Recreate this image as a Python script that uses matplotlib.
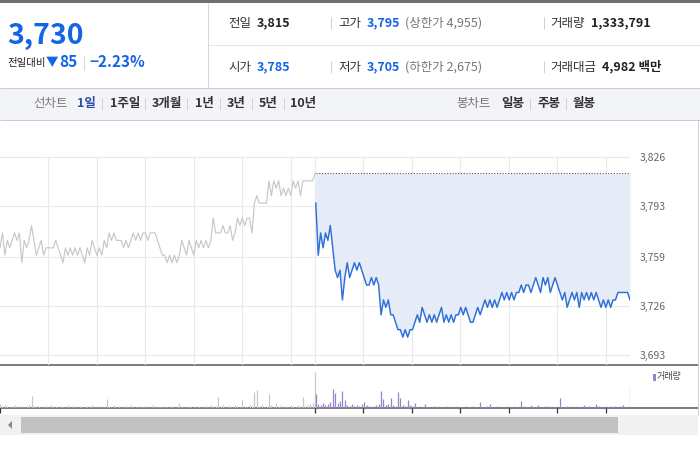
import numpy as np
import matplotlib
matplotlib.use('Agg')
import matplotlib.pyplot as plt
from matplotlib.patches import Rectangle, Polygon

plt.rcParams['font.family'] = ['Noto Sans CJK KR', 'DejaVu Sans']

# previous day, one point every 3 minutes (last one = close 3,815)
prev_price = [
    3765, 3775, 3760, 3770, 3765, 3770, 3775, 3770, 3775, 3755,
    3770, 3765, 3770, 3780, 3770, 3760, 3765, 3770, 3760, 3765,
    3765, 3765, 3765, 3770, 3765, 3760, 3755, 3765, 3760, 3765,
    3760, 3765, 3760, 3765, 3760, 3755, 3765, 3760, 3770, 3765,
    3760, 3765, 3760, 3770, 3765, 3775, 3770, 3775, 3770, 3770,
    3770, 3765, 3770, 3765, 3770, 3775, 3770, 3775, 3770, 3775,
    3775, 3770, 3775, 3775, 3775, 3770, 3765, 3760, 3760, 3755,
    3760, 3755, 3760, 3755, 3760, 3770, 3765, 3760, 3770, 3765,
    3760, 3770, 3765, 3770, 3765, 3770, 3765, 3770, 3785, 3775,
    3775, 3775, 3780, 3775, 3775, 3780, 3770, 3775, 3785, 3780,
    3785, 3780, 3785, 3785, 3775, 3795, 3800, 3795, 3795, 3795,
    3795, 3810, 3800, 3810, 3805, 3810, 3800, 3805, 3800, 3805,
    3800, 3810, 3805, 3810, 3800, 3810, 3810, 3810, 3810, 3810,
    3815,
]
prev_vol = [
    4, 2, 3, 2, 1, 2, 3, 1, 2, 2,
    1, 2, 3, 12, 2, 1, 2, 1, 1, 2,
    1, 3, 1, 2, 1, 2, 1, 1, 3, 1,
    2, 1, 1, 2, 1, 1, 2, 1, 3, 1,
    1, 2, 1, 1, 9, 2, 1, 3, 1, 2,
    1, 1, 2, 1, 3, 1, 1, 2, 1, 1,
    2, 1, 1, 3, 1, 2, 1, 1, 2, 1,
    1, 2, 1, 1, 5, 2, 1, 1, 2, 1,
    1, 1, 2, 1, 1, 2, 1, 3, 1, 2,
    11, 2, 3, 1, 2, 2, 1, 3, 2, 1,
    8, 2, 1, 3, 2, 16, 18, 2, 3, 1,
    2, 14, 3, 1, 5, 2, 3, 1, 2, 1,
    3, 2, 1, 3, 2, 11, 2, 3, 4, 5,
    36,
]

# today
today_price = [
    3795, 3760, 3775, 3765, 3775, 3770, 3780, 3765, 3750, 3745,
    3750, 3730, 3745, 3755, 3745, 3750, 3755, 3750, 3755, 3750,
    3745, 3740, 3740, 3745, 3740, 3745, 3740, 3720, 3730, 3725,
    3730, 3720, 3720, 3715, 3710, 3710, 3705, 3710, 3705, 3710,
    3710, 3715, 3720, 3715, 3725, 3720, 3715, 3720, 3715, 3720,
    3715, 3720, 3725, 3715, 3720, 3715, 3720, 3715, 3720, 3720,
    3725, 3720, 3725, 3720, 3715, 3715, 3720, 3725, 3720, 3725,
    3730, 3725, 3730, 3725, 3730, 3725, 3730, 3735, 3730, 3735,
    3730, 3735, 3730, 3735, 3735, 3740, 3735, 3740, 3740, 3735,
    3740, 3745, 3740, 3735, 3745, 3740, 3745, 3735, 3740, 3745,
    3740, 3735, 3730, 3735, 3725, 3730, 3735, 3730, 3735, 3725,
    3735, 3730, 3735, 3730, 3735, 3730, 3735, 3730, 3725, 3730,
    3725, 3730, 3725, 3730, 3730, 3735, 3735, 3735, 3735, 3735,
    3730,
]
today_vol = [
    14, 4, 3, 5, 3, 4, 6, 19, 15, 5,
    7, 17, 8, 3, 2, 4, 2, 3, 2, 4,
    6, 3, 2, 1, 2, 3, 4, 17, 9, 3,
    4, 10, 3, 2, 16, 10, 3, 2, 8, 3,
    2, 5, 1, 2, 1, 4, 1, 1, 1, 2,
    1, 2, 1, 1, 2, 1, 1, 1, 2, 1,
    1, 1, 2, 1, 1, 2, 1, 1, 6, 1,
    1, 2, 4, 1, 1, 2, 1, 1, 1, 2,
    1, 1, 2, 1, 1, 7, 2, 1, 1, 3,
    1, 1, 3, 1, 1, 2, 2, 1, 1, 1,
    2, 10, 1, 1, 2, 1, 2, 1, 2, 1,
    1, 3, 1, 2, 1, 1, 4, 2, 1, 1,
    2, 1, 2, 1, 2, 1, 2, 3, 1, 1,
    21,
]
prev_close = 3815
ytick_vals = [3693, 3726, 3759, 3793, 3826]
grid_minutes = [60, 120, 180, 240, 300, 360, 390, 450, 510, 570, 630, 690, 750]
tick_minutes = [0, 390, 450, 510, 570, 630, 690, 750]

prev_t = np.linspace(0, 390, len(prev_price))
today_t = np.linspace(391, 780, len(today_price))

BLUE = '#1464e6'
fig = plt.figure(figsize=(7, 4.5), dpi=100)

# background / header drawn in pixel coordinates
bg = fig.add_axes([0, 0, 1, 1], zorder=0)
bg.set_xlim(0, 700)
bg.set_ylim(450, 0)
bg.axis('off')

def rect(x0, y0, x1, y1, color):
    bg.add_patch(Rectangle((x0, y0), x1 - x0, y1 - y0, color=color, lw=0))

def line(xs, ys, color, lw=0.72):
    bg.plot(xs, ys, color=color, lw=lw, solid_capstyle='butt')

rect(0, 0, 700, 3, '#6c7076')
line([208, 208], [3, 88], '#d5d7db')
line([208, 700], [45, 45], '#e3e4e7')

bg.text(7, 36, '3,730', fontsize=20.5, fontweight='bold', color=BLUE, va='center')
bg.text(7, 63, '전일대비', fontsize=7.5, color='#222', va='center')
bg.text(46, 63, '▼', fontsize=9, color=BLUE, va='center')
bg.text(59, 62, '85', fontsize=11, fontweight='bold', color=BLUE, va='center')
line([84, 84], [56, 70], '#d5d5d5')
bg.text(89, 62, '−2.23%', fontsize=11, fontweight='bold', color=BLUE, va='center')

rows = [
    (23, [('전일', 228, '#333', 'normal'), ('3,815', 257, '#222', 'bold'),
          ('고가', 338, '#333', 'normal'), ('3,795', 367, BLUE, 'bold'),
          ('(상한가 4,955)', 405, '#777', 'normal'),
          ('거래량', 550, '#333', 'normal'), ('1,333,791', 591, '#222', 'bold')]),
    (67, [('시가', 228, '#333', 'normal'), ('3,785', 257, BLUE, 'bold'),
          ('저가', 338, '#333', 'normal'), ('3,705', 367, BLUE, 'bold'),
          ('(하한가 2,675)', 405, '#777', 'normal'),
          ('거래대금', 550, '#333', 'normal'), ('4,982 백만', 602, '#222', 'bold')]),
]
for y, items in rows:
    for s, x, c, w in items:
        bg.text(x, y, s, fontsize=9, color=c, fontweight=w, va='center')
    line([331, 331], [y - 6, y + 6], '#d0d0d0')
    line([544, 544], [y - 6, y + 6], '#d0d0d0')

# tab bar
rect(0, 88, 700, 120, '#f3f4f7')
line([0, 700], [88, 88], '#c9ccd2')
line([0, 700], [120, 120], '#c9ccd2')
tabs = [('선차트', 33, '#777', 'normal'), ('1일', 77, '#2d4fa6', 'bold'),
        ('1주일', 110, '#333', 'bold'), ('3개월', 152, '#333', 'bold'),
        ('1년', 195, '#333', 'bold'), ('3년', 227, '#333', 'bold'),
        ('5년', 259, '#333', 'bold'), ('10년', 290, '#333', 'bold'),
        ('봉차트', 456, '#777', 'normal'), ('일봉', 501, '#333', 'bold'),
        ('주봉', 537, '#333', 'bold'), ('월봉', 573, '#333', 'bold')]
for s, x, c, w in tabs:
    bg.text(x, 104, s, fontsize=9, color=c, fontweight=w, va='center')
for x in [102, 145, 187, 220, 252, 284, 530, 566]:
    line([x, x], [98, 110], '#d0d2d6')

# chart frame
line([698, 698], [120, 415], '#cfcfcf')
line([0, 698], [365.3, 365.3], '#7a7a7a', 1.4)
line([0, 698], [408.3, 408.3], '#7a7a7a', 1.4)

# volume legend
rect(653, 373.5, 655.5, 381, '#9a83c9')
bg.text(657, 377, '거래량', fontsize=6.5, color='#444', va='center')

# scroll bar
rect(0, 415, 698, 435, '#f1f1f1')
rect(21, 417, 618, 433, '#c1c1c1')
bg.add_patch(Polygon([[8, 425], [12, 421], [12, 429]], closed=True, color='#888', lw=0))

# price panel
y_lo = 3693 - (365.3 - 355) * 133 / 198
y_hi = 3826 + 2 * 133 / 198
ax = fig.add_axes([0, 1 - 365.3 / 450, 630 / 700, (365.3 - 155) / 450],
                  zorder=2, facecolor='none')
ax.set_xlim(0, 780)
ax.set_ylim(y_lo, y_hi)
for v in ytick_vals:
    ax.axhline(v, color='#e9e9e9', lw=0.8, zorder=0)
ax.vlines(grid_minutes, y_lo, 3826, color='#e9e9e9', lw=0.8, zorder=0)

ax.fill_between(today_t, today_price, prev_close, color='#e5ecf8', lw=0, zorder=1)
ax.plot([391, 780], [prev_close, prev_close], color='#555', lw=0.8,
        linestyle=(0, (1, 1.5)), zorder=2)
ax.plot(prev_t, prev_price, color='#c5c8cc', lw=0.85, zorder=3)
ax.plot(today_t, today_price, color='#2e6fd8', lw=1.05, zorder=4)

for s in ax.spines.values():
    s.set_visible(False)
ax.set_xticks([])
ax.yaxis.tick_right()
ax.set_yticks(ytick_vals)
ax.set_yticklabels([f'{v:,}' for v in ytick_vals])
ax.tick_params(axis='y', length=0, pad=7.2, labelsize=7.5, labelcolor='#666')

# volume panel
vax = fig.add_axes([0, 1 - 408.3 / 450, 630 / 700, 43 / 450],
                   zorder=2, facecolor='none')
vax.set_xlim(0, 780)
vax.set_ylim(0, 43)
vax.vlines(prev_t, 0, prev_vol, color='#c8c8c8', lw=0.9)
vax.vlines(today_t, 0, today_vol, color='#9a83c9', lw=0.9)
for s in vax.spines.values():
    s.set_visible(False)
vax.set_yticks([])
vax.set_xticks(tick_minutes)
vax.tick_params(axis='x', length=3.6, width=0.9, color='#333', labelbottom=False)

fig.savefig('out.png', dpi=100)
